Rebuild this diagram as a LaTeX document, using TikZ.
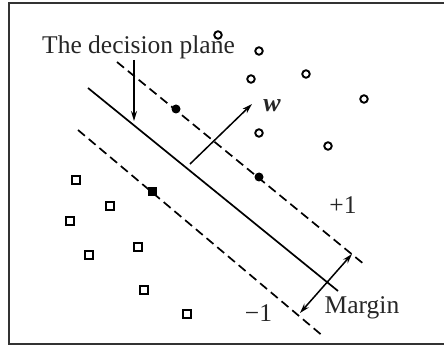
\documentclass[tikz,border=0pt]{standalone}
\usepackage{fontspec}
\setmainfont{Liberation Serif}
\usetikzlibrary{arrows.meta}
\begin{document}
\begin{tikzpicture}[x=1pt,y=-1pt,
  frameline/.style={line width=2.2pt,draw=black!80},
  solidline/.style={line width=1.7pt},
  dashline/.style={line width=1.7pt,dash pattern=on 9pt off 5pt},
  arr/.style={line width=1.5pt,-{Stealth[length=10pt,width=6pt]}},
  darr/.style={line width=1.5pt,{Stealth[length=10pt,width=6pt]}-{Stealth[length=10pt,width=6pt]}},
  opendot/.style={circle,draw,line width=1.9pt,minimum size=7.5pt,inner sep=0pt},
  openbox/.style={rectangle,draw,line width=1.9pt,minimum size=7.5pt,inner sep=0pt},
  fulldot/.style={circle,fill,minimum size=9pt,inner sep=0pt},
  fullbox/.style={rectangle,fill,minimum size=9pt,inner sep=0pt},
  lab/.style={font=\fontsize{25.5}{30}\selectfont,inner sep=0pt,anchor=base,text=black!85}]
\useasboundingbox (0,0) rectangle (444,347);
\draw[frameline] (448,3) -- (9,3) -- (9,344) -- (448,344);
% hyperplanes
\coordinate (s1) at (88,88);   \coordinate (s2) at (338,291);
\coordinate (u1) at (117,62);  \coordinate (u2) at (365,265);
\coordinate (l1) at (78,130);  \coordinate (l2) at (324,337);
\draw[solidline] (s1) -- (s2);
\draw[dashline] (u1) -- (u2);
\draw[dashline] (l1) -- (l2);
% support vectors
\node[fulldot] (sv1) at (176,109) {};
\node[fulldot] (sv2) at (259,177) {};
\node[fullbox] (sv3) at (152,192) {};
% positive class
\node[opendot] (p1) at (218,35) {};
\node[opendot] (p2) at (259,51) {};
\node[opendot] (p3) at (251,79) {};
\node[opendot] (p4) at (306,74) {};
\node[opendot] (p5) at (364,99) {};
\node[opendot] (p6) at (259,133) {};
\node[opendot] (p7) at (328,146) {};
% negative class
\node[openbox] (n1) at (76,180) {};
\node[openbox] (n2) at (110,206) {};
\node[openbox] (n3) at (70,221) {};
\node[openbox] (n4) at (89,255) {};
\node[openbox] (n5) at (138,247) {};
\node[openbox] (n6) at (144,290) {};
\node[openbox] (n7) at (187,314) {};
% labels
\node[lab] (plane) at (138.5,54) {The decision plane};
\coordinate (pt) at (134,121);
\draw[arr] (134,60) coordinate (ps) -- (pt);
\coordinate (w0) at (190,164); \coordinate (w1) at (252,104);
\draw[arr] (w0) -- (w1);
\node[lab,font=\fontsize{26}{30}\selectfont\bfseries\itshape] (w) at (272,112) {w};
\node[lab] (plus) at (343,214) {+1};
\node[lab] (minus) at (258.5,321) {−1};
\node[lab] (margin) at (362,313) {Margin};
\coordinate (m1) at (352,254); \coordinate (m2) at (300,313);
\draw[darr] (m2) -- (m1);
\end{tikzpicture}
\end{document}
